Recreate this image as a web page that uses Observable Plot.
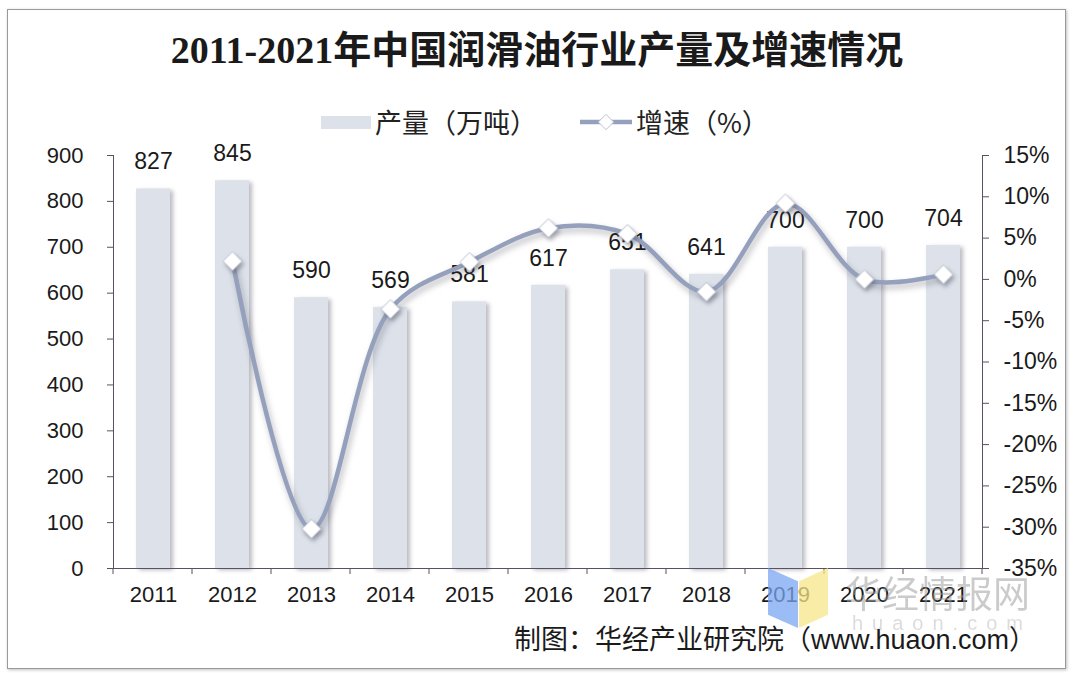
<!DOCTYPE html>
<html><head><meta charset="utf-8">
<script src="https://cdn.jsdelivr.net/npm/d3@7"></script>
<script src="https://cdn.jsdelivr.net/npm/@observablehq/plot@0.6"></script>
<style>
body{margin:0;background:#fff;width:1074px;height:680px;position:relative;overflow:hidden;font-family:"Liberation Sans","Noto Sans CJK SC",sans-serif;}
#frame{position:absolute;left:7px;top:9px;width:1057px;height:658px;border:1px solid #9a9a9a;box-shadow:1px 1px 3px rgba(0,0,0,0.25);background:#fff;}
#title{position:absolute;left:0;width:1074px;top:27px;text-align:center;font-family:"Liberation Serif","Noto Sans CJK SC",serif;font-weight:bold;font-size:38px;line-height:46px;color:#1a1a1a;}
#legend{position:absolute;top:102px;left:0;width:1074px;height:44px;}
#chart{position:absolute;left:0;top:130px;}
#footer{position:absolute;right:38px;top:622px;font-size:27px;line-height:36px;color:#1a1a1a;font-family:"Liberation Sans","Noto Sans CJK SC",sans-serif;}
.wm{position:absolute;pointer-events:none;}
</style></head>
<body>
<div id="frame"></div>
<div id="title">2011-2021年中国润滑油行业产量及增速情况</div>
<div id="legend"></div>
<div id="chart"></div>
<div class="wm" style="left:768px;top:568px;width:30px;height:60px;background:#7aa6f0;opacity:0.75;clip-path:polygon(0 0,100% 22%,100% 100%,0 78%);"></div>
<div class="wm" style="left:799px;top:568px;width:29px;height:60px;background:#f5e58a;opacity:0.75;clip-path:polygon(0 22%,100% 0,100% 78%,0 100%);"></div>
<div class="wm" style="left:845px;top:565px;font-size:37px;color:#999;opacity:0.5;font-family:'Noto Sans CJK SC';">华经情报网</div>
<div class="wm" style="left:852px;top:612px;font-size:20px;color:#bbb;opacity:0.5;letter-spacing:9px;">huaon.com</div>
<div id="footer">制图：华经产业研究院（www.huaon.com）</div>
<script>
const years = ["2011","2012","2013","2014","2015","2016","2017","2018","2019","2020","2021"];
const output = [827, 845, 590, 569, 581, 617, 651, 641, 700, 700, 704];
const growthYears = ["2012","2013","2014","2015","2016","2017","2018","2019","2020","2021"];
const growth = [2.2, -30.2, -3.6, 2.1, 6.2, 5.5, -1.5, 9.2, 0.0, 0.6];
const leftTicks = [0, 100, 200, 300, 400, 500, 600, 700, 800, 900];
const rightTicks = [-35, -30, -25, -20, -15, -10, -5, 0, 5, 10, 15];

const barColor = "#dde2ea";
const lineColor = "#95a1bc";
const axisColor = "#5a5060";

// right axis domain [-35, 15] mapped onto the left axis domain [0, 900]
const rMin = -35, rMax = 15, lMax = 900;
const toLeft = g => (g - rMin) / (rMax - rMin) * lMax;
const fromLeft = v => v / lMax * (rMax - rMin) + rMin;

const bars = years.map((y, i) => ({year: y, v: output[i]}));
const rate = growthYears.map((y, i) => ({year: y, g: growth[i]}));

// category boundary ticks on the x axis (between bands)
function boundaryTicks(index, scales, values, dim) {
  const g = document.createElementNS("http://www.w3.org/2000/svg", "g");
  const x = scales.x;
  const step = x(years[1]) - x(years[0]);
  const y0 = dim.height - dim.marginBottom;
  for (let k = 0; k <= years.length; k++) {
    const px = dim.marginLeft + k * step;
    const l = document.createElementNS("http://www.w3.org/2000/svg", "line");
    l.setAttribute("x1", px); l.setAttribute("x2", px);
    l.setAttribute("y1", y0); l.setAttribute("y2", y0 + 6);
    l.setAttribute("stroke", axisColor);
    g.appendChild(l);
  }
  return g;
}

const chart = Plot.plot({
  width: 1074, height: 490,
  marginTop: 25, marginBottom: 52, marginLeft: 113, marginRight: 92,
  style: {fontFamily: "Liberation Sans, Arial, sans-serif", fontSize: "22px", color: "#222", background: "transparent"},
  x: {type: "band", domain: years, paddingInner: 0.57, paddingOuter: 0.285, label: null},
  y: {domain: [0, lMax], label: null},
  marks: [
    Plot.barY(bars, {x: "year", y: "v", fill: barColor}),
    Plot.text(bars, {x: "year", y: "v", text: d => String(d.v), dy: -27, fontSize: 23, fill: "#1a1a1a"}),
    Plot.line(rate, {x: "year", y: d => toLeft(d.g), curve: "catmull-rom", stroke: lineColor, strokeWidth: 4.5}),
    Plot.dot(rate, {x: "year", y: d => toLeft(d.g), symbol: "diamond2", r: 8.5, fill: "white", stroke: "#b9c0ce", strokeWidth: 1}),
    Plot.axisY(leftTicks, {anchor: "left", tickSize: 6, tickPadding: 24, fontSize: 22, stroke: axisColor, fill: "#1a1a1a", label: null}),
    Plot.axisY(rightTicks.map(toLeft), {anchor: "right", tickSize: 6, tickPadding: 15, fontSize: 23, stroke: axisColor, fill: "#1a1a1a", label: null,
      tickFormat: v => Math.round(fromLeft(v)) + "%"}),
    Plot.axisX({tickSize: 0, tickPadding: 18, fontSize: 22, fill: "#1a1a1a", label: null}),
    Plot.frame({anchor: "left", stroke: axisColor}),
    Plot.frame({anchor: "right", stroke: axisColor}),
    Plot.ruleY([0], {stroke: axisColor}),
    boundaryTicks
  ]
});
document.getElementById("chart").appendChild(chart);
chart.querySelectorAll('g[aria-label="bar"] rect').forEach(r => r.style.filter = "drop-shadow(3px 2px 2px rgba(60,60,80,0.35))");
const lg = chart.querySelector('g[aria-label="line"]'); if (lg) lg.style.filter = "drop-shadow(2px 4px 3px rgba(60,60,80,0.35))";
const dg = chart.querySelector('g[aria-label="dot"]'); if (dg) dg.style.filter = "drop-shadow(2px 3px 2px rgba(60,60,80,0.4))";

// legend
const legend = d3.select("#legend").append("svg").attr("width", 1074).attr("height", 44);
legend.append("rect").attr("x", 321).attr("y", 14).attr("width", 50).attr("height", 13).attr("fill", barColor);
legend.append("text").attr("x", 375).attr("y", 31).attr("font-size", 27).attr("font-family", "Noto Sans CJK SC").attr("fill", "#222").text("产量（万吨）");
legend.append("line").attr("x1", 580).attr("x2", 632).attr("y1", 20).attr("y2", 20).attr("stroke", lineColor).attr("stroke-width", 4.5);
legend.append("path").attr("d", d3.symbol(d3.symbolDiamond2, 150)()).attr("transform", "translate(606,20)").attr("fill", "white").attr("stroke", "#b9c0ce");
legend.append("text").attr("x", 636).attr("y", 31).attr("font-size", 27).attr("font-family", "Noto Sans CJK SC").attr("fill", "#222").text("增速（%）");
</script>
</body></html>
